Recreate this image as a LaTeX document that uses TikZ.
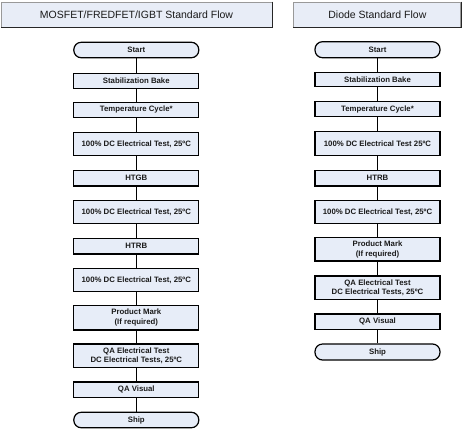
\documentclass[tikz,border=0pt]{standalone}
\usepackage{fontspec}
\setmainfont{Liberation Sans}
\definecolor{boxfill}{HTML}{E7EDF8}
\definecolor{hdrfill}{HTML}{E8EDF7}
\definecolor{txt}{HTML}{1A1A1A}
\begin{document}
\begin{tikzpicture}[x=1pt,y=-1pt,
  proc/.style={draw=black,line width=1.2pt,fill=boxfill,minimum width=125pt,inner sep=0pt,align=center,text=txt,font=\bfseries\fontsize{7.8}{9.5}\selectfont},
  sgl/.style={proc,minimum height=15pt},
  dbl/.style={proc,minimum height=23.5pt},
  term/.style={proc,minimum height=15.5pt,rounded corners=7.5pt},
  hdr/.style={draw=gray!80,line width=0.9pt,fill=hdrfill,minimum height=25pt,inner sep=0pt,text=txt,font=\fontsize{10.5}{12}\selectfont},
  conn/.style={line width=1.2pt,black}]
\useasboundingbox (0,0) rectangle (462,429);
% headers
\node[hdr,minimum width=271pt] (h1) at (136.5,14.5) {MOSFET/FREDFET/IGBT Standard Flow};
\draw[line width=1pt,black!85] (h1.north east) -- (h1.south east) -- (h1.south west);
\node[hdr,minimum width=167pt] (h2) at (377.4,14.5) {Diode Standard Flow};
\draw[line width=1pt,black!85] (h2.north east) -- (h2.south east) -- (h2.south west);
% left column
\node[term] (a1) at (136.3,50) {Start};
\node[sgl] (a2) at (136.3,80.8) {Stabilization Bake};
\node[sgl] (a3) at (136.3,109.8) {Temperature Cycle*};
\node[dbl] (a4) at (136.3,144) {100\% DC Electrical Test, 25ºC};
\node[sgl,minimum height=15.5pt] (a5) at (136.3,178.3) {HTGB};
\node[dbl,minimum height=22.7pt] (a6) at (136.3,212) {100\% DC Electrical Test, 25ºC};
\node[sgl,minimum height=15.5pt] (a7) at (136.3,246.2) {HTRB};
\node[dbl] (a8) at (136.3,280) {100\% DC Electrical Test, 25ºC};
\node[dbl,minimum height=24.5pt] (a9) at (136.3,317.7) {Product Mark\\(If required)};
\node[dbl] (a10) at (136.3,355.8) {QA Electrical Test\\DC Electrical Tests, 25ºC};
\node[sgl,minimum height=15.5pt] (a11) at (136.3,389.8) {QA Visual};
\node[term] (a12) at (136.3,420) {Ship};
\foreach \i/\j in {a1/a2,a2/a3,a3/a4,a4/a5,a5/a6,a6/a7,a7/a8,a8/a9,a9/a10,a10/a11,a11/a12}
  \draw[conn] (\i) -- (\j);
% right column
\node[term,minimum height=16pt] (b1) at (377.5,49.7) {Start};
\node[sgl,minimum height=14.5pt] (b2) at (377.5,79.5) {Stabilization Bake};
\node[sgl] (b3) at (377.5,109.2) {Temperature Cycle*};
\node[dbl,minimum height=24pt] (b4) at (377.5,143.7) {100\% DC Electrical Test 25ºC};
\node[sgl,minimum height=15.3pt] (b5) at (377.5,178.3) {HTRB};
\node[dbl,minimum height=22.7pt] (b6) at (377.5,212) {100\% DC Electrical Test, 25ºC};
\node[dbl] (b7) at (377.5,249.3) {Product Mark\\(If required)};
\node[dbl] (b8) at (377.5,287.7) {QA Electrical Test\\DC Electrical Tests, 25ºC};
\node[sgl,minimum height=15.3pt] (b9) at (377.5,321.7) {QA Visual};
\node[term,minimum height=16pt] (b10) at (377.5,352) {Ship};
\foreach \i/\j in {b1/b2,b2/b3,b3/b4,b4/b5,b5/b6,b6/b7,b7/b8,b8/b9,b9/b10}
  \draw[conn] (\i) -- (\j);
\end{tikzpicture}
\end{document}
